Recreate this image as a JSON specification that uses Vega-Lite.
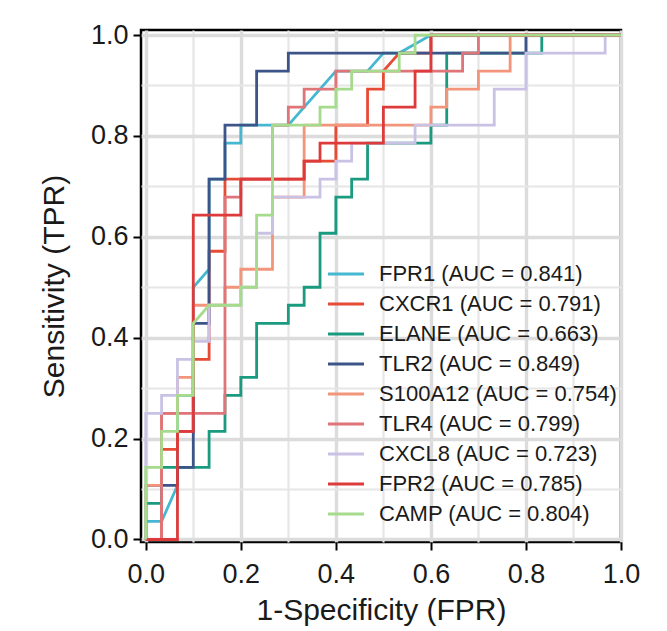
{
  "$schema": "https://vega.github.io/schema/vega-lite/v6.json",
  "autosize": "none",
  "width": 480,
  "height": 512,
  "padding": {"left": 141, "top": 30, "right": 46, "bottom": 89},
  "background": "white",
  "config": {
    "font": "Liberation Sans",
    "view": {"stroke": "black", "strokeWidth": 2.5},
    "axis": {
      "domain": false,
      "grid": true,
      "tickColor": "black",
      "tickWidth": 2,
      "tickSize": 8,
      "labelFont": "Liberation Sans",
      "labelFontSize": 27,
      "labelColor": "#1a1a1a",
      "labelFlush": false,
      "labelOverlap": false,
      "titleFont": "Liberation Sans",
      "titleFontSize": 30,
      "titleFontWeight": "normal",
      "titleColor": "#1a1a1a"
    }
  },
  "datasets": {
    "auc": [
      {"gene": "FPR1", "auc": 0.841},
      {"gene": "CXCR1", "auc": 0.791},
      {"gene": "ELANE", "auc": 0.663},
      {"gene": "TLR2", "auc": 0.849},
      {"gene": "S100A12", "auc": 0.754},
      {"gene": "TLR4", "auc": 0.799},
      {"gene": "CXCL8", "auc": 0.723},
      {"gene": "FPR2", "auc": 0.785},
      {"gene": "CAMP", "auc": 0.804}
    ],
    "roc": [
      {"gene": "FPR1", "step": 1, "fpr": 0, "tpr": 0},
      {"gene": "FPR1", "step": 2, "fpr": 0, "tpr": 0.0357},
      {"gene": "FPR1", "step": 3, "fpr": 0.0333, "tpr": 0.0357},
      {"gene": "FPR1", "step": 4, "fpr": 0.0667, "tpr": 0.1071},
      {"gene": "FPR1", "step": 5, "fpr": 0.0667, "tpr": 0.2857},
      {"gene": "FPR1", "step": 6, "fpr": 0.1, "tpr": 0.2857},
      {"gene": "FPR1", "step": 7, "fpr": 0.1, "tpr": 0.5},
      {"gene": "FPR1", "step": 8, "fpr": 0.1333, "tpr": 0.5357},
      {"gene": "FPR1", "step": 9, "fpr": 0.1333, "tpr": 0.7143},
      {"gene": "FPR1", "step": 10, "fpr": 0.1667, "tpr": 0.7143},
      {"gene": "FPR1", "step": 11, "fpr": 0.1667, "tpr": 0.7857},
      {"gene": "FPR1", "step": 12, "fpr": 0.2, "tpr": 0.7857},
      {"gene": "FPR1", "step": 13, "fpr": 0.2, "tpr": 0.8214},
      {"gene": "FPR1", "step": 14, "fpr": 0.3, "tpr": 0.8214},
      {"gene": "FPR1", "step": 15, "fpr": 0.4, "tpr": 0.9286},
      {"gene": "FPR1", "step": 16, "fpr": 0.4667, "tpr": 0.9286},
      {"gene": "FPR1", "step": 17, "fpr": 0.5, "tpr": 0.9643},
      {"gene": "FPR1", "step": 18, "fpr": 0.5333, "tpr": 0.9643},
      {"gene": "FPR1", "step": 19, "fpr": 0.6, "tpr": 1},
      {"gene": "FPR1", "step": 20, "fpr": 1, "tpr": 1},

      {"gene": "CXCR1", "step": 1, "fpr": 0, "tpr": 0},
      {"gene": "CXCR1", "step": 2, "fpr": 0.0333, "tpr": 0},
      {"gene": "CXCR1", "step": 3, "fpr": 0.0333, "tpr": 0.1786},
      {"gene": "CXCR1", "step": 4, "fpr": 0.0667, "tpr": 0.1786},
      {"gene": "CXCR1", "step": 5, "fpr": 0.0667, "tpr": 0.2143},
      {"gene": "CXCR1", "step": 6, "fpr": 0.1, "tpr": 0.2143},
      {"gene": "CXCR1", "step": 7, "fpr": 0.1, "tpr": 0.3571},
      {"gene": "CXCR1", "step": 8, "fpr": 0.1333, "tpr": 0.3571},
      {"gene": "CXCR1", "step": 9, "fpr": 0.1333, "tpr": 0.5714},
      {"gene": "CXCR1", "step": 10, "fpr": 0.1667, "tpr": 0.5714},
      {"gene": "CXCR1", "step": 11, "fpr": 0.1667, "tpr": 0.7143},
      {"gene": "CXCR1", "step": 12, "fpr": 0.3333, "tpr": 0.7143},
      {"gene": "CXCR1", "step": 13, "fpr": 0.3333, "tpr": 0.75},
      {"gene": "CXCR1", "step": 14, "fpr": 0.4, "tpr": 0.75},
      {"gene": "CXCR1", "step": 15, "fpr": 0.4, "tpr": 0.8214},
      {"gene": "CXCR1", "step": 16, "fpr": 0.4667, "tpr": 0.8214},
      {"gene": "CXCR1", "step": 17, "fpr": 0.4667, "tpr": 0.8929},
      {"gene": "CXCR1", "step": 18, "fpr": 0.5, "tpr": 0.8929},
      {"gene": "CXCR1", "step": 19, "fpr": 0.5, "tpr": 0.9286},
      {"gene": "CXCR1", "step": 20, "fpr": 0.5333, "tpr": 0.9643},
      {"gene": "CXCR1", "step": 21, "fpr": 0.6, "tpr": 0.9643},
      {"gene": "CXCR1", "step": 22, "fpr": 0.6, "tpr": 1},
      {"gene": "CXCR1", "step": 23, "fpr": 1, "tpr": 1},

      {"gene": "ELANE", "step": 1, "fpr": 0, "tpr": 0},
      {"gene": "ELANE", "step": 2, "fpr": 0, "tpr": 0.0714},
      {"gene": "ELANE", "step": 3, "fpr": 0.0333, "tpr": 0.0714},
      {"gene": "ELANE", "step": 4, "fpr": 0.0333, "tpr": 0.1429},
      {"gene": "ELANE", "step": 5, "fpr": 0.1333, "tpr": 0.1429},
      {"gene": "ELANE", "step": 6, "fpr": 0.1333, "tpr": 0.2143},
      {"gene": "ELANE", "step": 7, "fpr": 0.1667, "tpr": 0.2143},
      {"gene": "ELANE", "step": 8, "fpr": 0.1667, "tpr": 0.2857},
      {"gene": "ELANE", "step": 9, "fpr": 0.2, "tpr": 0.2857},
      {"gene": "ELANE", "step": 10, "fpr": 0.2, "tpr": 0.3214},
      {"gene": "ELANE", "step": 11, "fpr": 0.2333, "tpr": 0.3214},
      {"gene": "ELANE", "step": 12, "fpr": 0.2333, "tpr": 0.4286},
      {"gene": "ELANE", "step": 13, "fpr": 0.3, "tpr": 0.4286},
      {"gene": "ELANE", "step": 14, "fpr": 0.3, "tpr": 0.4643},
      {"gene": "ELANE", "step": 15, "fpr": 0.3333, "tpr": 0.4643},
      {"gene": "ELANE", "step": 16, "fpr": 0.3333, "tpr": 0.5},
      {"gene": "ELANE", "step": 17, "fpr": 0.3667, "tpr": 0.5},
      {"gene": "ELANE", "step": 18, "fpr": 0.3667, "tpr": 0.6071},
      {"gene": "ELANE", "step": 19, "fpr": 0.4, "tpr": 0.6071},
      {"gene": "ELANE", "step": 20, "fpr": 0.4, "tpr": 0.6786},
      {"gene": "ELANE", "step": 21, "fpr": 0.4333, "tpr": 0.6786},
      {"gene": "ELANE", "step": 22, "fpr": 0.4333, "tpr": 0.7143},
      {"gene": "ELANE", "step": 23, "fpr": 0.4667, "tpr": 0.7143},
      {"gene": "ELANE", "step": 24, "fpr": 0.4667, "tpr": 0.7857},
      {"gene": "ELANE", "step": 25, "fpr": 0.6, "tpr": 0.7857},
      {"gene": "ELANE", "step": 26, "fpr": 0.6, "tpr": 0.8214},
      {"gene": "ELANE", "step": 27, "fpr": 0.6333, "tpr": 0.8214},
      {"gene": "ELANE", "step": 28, "fpr": 0.6333, "tpr": 0.9643},
      {"gene": "ELANE", "step": 29, "fpr": 0.8333, "tpr": 0.9643},
      {"gene": "ELANE", "step": 30, "fpr": 0.8333, "tpr": 1},
      {"gene": "ELANE", "step": 31, "fpr": 1, "tpr": 1},

      {"gene": "TLR2", "step": 1, "fpr": 0, "tpr": 0},
      {"gene": "TLR2", "step": 2, "fpr": 0, "tpr": 0.1071},
      {"gene": "TLR2", "step": 3, "fpr": 0.0667, "tpr": 0.1071},
      {"gene": "TLR2", "step": 4, "fpr": 0.0667, "tpr": 0.1429},
      {"gene": "TLR2", "step": 5, "fpr": 0.1, "tpr": 0.1429},
      {"gene": "TLR2", "step": 6, "fpr": 0.1, "tpr": 0.4286},
      {"gene": "TLR2", "step": 7, "fpr": 0.1333, "tpr": 0.4286},
      {"gene": "TLR2", "step": 8, "fpr": 0.1333, "tpr": 0.7143},
      {"gene": "TLR2", "step": 9, "fpr": 0.1667, "tpr": 0.7143},
      {"gene": "TLR2", "step": 10, "fpr": 0.1667, "tpr": 0.8214},
      {"gene": "TLR2", "step": 11, "fpr": 0.2333, "tpr": 0.8214},
      {"gene": "TLR2", "step": 12, "fpr": 0.2333, "tpr": 0.9286},
      {"gene": "TLR2", "step": 13, "fpr": 0.3, "tpr": 0.9286},
      {"gene": "TLR2", "step": 14, "fpr": 0.3, "tpr": 0.9643},
      {"gene": "TLR2", "step": 15, "fpr": 0.8, "tpr": 0.9643},
      {"gene": "TLR2", "step": 16, "fpr": 0.8, "tpr": 1},
      {"gene": "TLR2", "step": 17, "fpr": 1, "tpr": 1},

      {"gene": "S100A12", "step": 1, "fpr": 0, "tpr": 0},
      {"gene": "S100A12", "step": 2, "fpr": 0, "tpr": 0.1071},
      {"gene": "S100A12", "step": 3, "fpr": 0.0333, "tpr": 0.1071},
      {"gene": "S100A12", "step": 4, "fpr": 0.0333, "tpr": 0.25},
      {"gene": "S100A12", "step": 5, "fpr": 0.0667, "tpr": 0.25},
      {"gene": "S100A12", "step": 6, "fpr": 0.0667, "tpr": 0.3214},
      {"gene": "S100A12", "step": 7, "fpr": 0.1, "tpr": 0.3214},
      {"gene": "S100A12", "step": 8, "fpr": 0.1, "tpr": 0.4643},
      {"gene": "S100A12", "step": 9, "fpr": 0.1667, "tpr": 0.4643},
      {"gene": "S100A12", "step": 10, "fpr": 0.1667, "tpr": 0.5},
      {"gene": "S100A12", "step": 11, "fpr": 0.2, "tpr": 0.5},
      {"gene": "S100A12", "step": 12, "fpr": 0.2, "tpr": 0.5357},
      {"gene": "S100A12", "step": 13, "fpr": 0.2667, "tpr": 0.5357},
      {"gene": "S100A12", "step": 14, "fpr": 0.2667, "tpr": 0.6786},
      {"gene": "S100A12", "step": 15, "fpr": 0.3333, "tpr": 0.6786},
      {"gene": "S100A12", "step": 16, "fpr": 0.3333, "tpr": 0.8214},
      {"gene": "S100A12", "step": 17, "fpr": 0.6, "tpr": 0.8214},
      {"gene": "S100A12", "step": 18, "fpr": 0.6, "tpr": 0.8571},
      {"gene": "S100A12", "step": 19, "fpr": 0.6333, "tpr": 0.8571},
      {"gene": "S100A12", "step": 20, "fpr": 0.6333, "tpr": 0.8929},
      {"gene": "S100A12", "step": 21, "fpr": 0.7, "tpr": 0.8929},
      {"gene": "S100A12", "step": 22, "fpr": 0.7, "tpr": 0.9286},
      {"gene": "S100A12", "step": 23, "fpr": 0.7667, "tpr": 0.9286},
      {"gene": "S100A12", "step": 24, "fpr": 0.7667, "tpr": 1},
      {"gene": "S100A12", "step": 25, "fpr": 1, "tpr": 1},

      {"gene": "TLR4", "step": 1, "fpr": 0, "tpr": 0},
      {"gene": "TLR4", "step": 2, "fpr": 0.0333, "tpr": 0},
      {"gene": "TLR4", "step": 3, "fpr": 0.0333, "tpr": 0.25},
      {"gene": "TLR4", "step": 4, "fpr": 0.1667, "tpr": 0.25},
      {"gene": "TLR4", "step": 5, "fpr": 0.1667, "tpr": 0.6786},
      {"gene": "TLR4", "step": 6, "fpr": 0.2, "tpr": 0.6786},
      {"gene": "TLR4", "step": 7, "fpr": 0.2, "tpr": 0.7143},
      {"gene": "TLR4", "step": 8, "fpr": 0.2667, "tpr": 0.7143},
      {"gene": "TLR4", "step": 9, "fpr": 0.2667, "tpr": 0.8214},
      {"gene": "TLR4", "step": 10, "fpr": 0.3, "tpr": 0.8214},
      {"gene": "TLR4", "step": 11, "fpr": 0.3, "tpr": 0.8571},
      {"gene": "TLR4", "step": 12, "fpr": 0.3333, "tpr": 0.8571},
      {"gene": "TLR4", "step": 13, "fpr": 0.3333, "tpr": 0.8929},
      {"gene": "TLR4", "step": 14, "fpr": 0.4, "tpr": 0.8929},
      {"gene": "TLR4", "step": 15, "fpr": 0.4, "tpr": 0.9286},
      {"gene": "TLR4", "step": 16, "fpr": 0.6667, "tpr": 0.9286},
      {"gene": "TLR4", "step": 17, "fpr": 0.6667, "tpr": 0.9643},
      {"gene": "TLR4", "step": 18, "fpr": 0.7, "tpr": 0.9643},
      {"gene": "TLR4", "step": 19, "fpr": 0.7, "tpr": 1},
      {"gene": "TLR4", "step": 20, "fpr": 1, "tpr": 1},

      {"gene": "CXCL8", "step": 1, "fpr": 0, "tpr": 0},
      {"gene": "CXCL8", "step": 2, "fpr": 0, "tpr": 0.25},
      {"gene": "CXCL8", "step": 3, "fpr": 0.0333, "tpr": 0.25},
      {"gene": "CXCL8", "step": 4, "fpr": 0.0333, "tpr": 0.2857},
      {"gene": "CXCL8", "step": 5, "fpr": 0.0667, "tpr": 0.2857},
      {"gene": "CXCL8", "step": 6, "fpr": 0.0667, "tpr": 0.3571},
      {"gene": "CXCL8", "step": 7, "fpr": 0.1, "tpr": 0.3571},
      {"gene": "CXCL8", "step": 8, "fpr": 0.1, "tpr": 0.3929},
      {"gene": "CXCL8", "step": 9, "fpr": 0.1333, "tpr": 0.3929},
      {"gene": "CXCL8", "step": 10, "fpr": 0.1333, "tpr": 0.4643},
      {"gene": "CXCL8", "step": 11, "fpr": 0.2, "tpr": 0.4643},
      {"gene": "CXCL8", "step": 12, "fpr": 0.2, "tpr": 0.5},
      {"gene": "CXCL8", "step": 13, "fpr": 0.2333, "tpr": 0.5},
      {"gene": "CXCL8", "step": 14, "fpr": 0.2333, "tpr": 0.6071},
      {"gene": "CXCL8", "step": 15, "fpr": 0.2667, "tpr": 0.6071},
      {"gene": "CXCL8", "step": 16, "fpr": 0.2667, "tpr": 0.6786},
      {"gene": "CXCL8", "step": 17, "fpr": 0.3667, "tpr": 0.6786},
      {"gene": "CXCL8", "step": 18, "fpr": 0.3667, "tpr": 0.7143},
      {"gene": "CXCL8", "step": 19, "fpr": 0.4, "tpr": 0.7143},
      {"gene": "CXCL8", "step": 20, "fpr": 0.4, "tpr": 0.75},
      {"gene": "CXCL8", "step": 21, "fpr": 0.4333, "tpr": 0.75},
      {"gene": "CXCL8", "step": 22, "fpr": 0.4333, "tpr": 0.7857},
      {"gene": "CXCL8", "step": 23, "fpr": 0.5667, "tpr": 0.7857},
      {"gene": "CXCL8", "step": 24, "fpr": 0.5667, "tpr": 0.8214},
      {"gene": "CXCL8", "step": 25, "fpr": 0.7333, "tpr": 0.8214},
      {"gene": "CXCL8", "step": 26, "fpr": 0.7333, "tpr": 0.8929},
      {"gene": "CXCL8", "step": 27, "fpr": 0.8, "tpr": 0.8929},
      {"gene": "CXCL8", "step": 28, "fpr": 0.8, "tpr": 0.9643},
      {"gene": "CXCL8", "step": 29, "fpr": 0.9667, "tpr": 0.9643},
      {"gene": "CXCL8", "step": 30, "fpr": 0.9667, "tpr": 1},
      {"gene": "CXCL8", "step": 31, "fpr": 1, "tpr": 1},

      {"gene": "FPR2", "step": 1, "fpr": 0, "tpr": 0},
      {"gene": "FPR2", "step": 2, "fpr": 0.0667, "tpr": 0},
      {"gene": "FPR2", "step": 3, "fpr": 0.0667, "tpr": 0.2143},
      {"gene": "FPR2", "step": 4, "fpr": 0.1, "tpr": 0.2143},
      {"gene": "FPR2", "step": 5, "fpr": 0.1, "tpr": 0.6429},
      {"gene": "FPR2", "step": 6, "fpr": 0.2, "tpr": 0.6429},
      {"gene": "FPR2", "step": 7, "fpr": 0.2, "tpr": 0.7143},
      {"gene": "FPR2", "step": 8, "fpr": 0.3333, "tpr": 0.7143},
      {"gene": "FPR2", "step": 9, "fpr": 0.3333, "tpr": 0.75},
      {"gene": "FPR2", "step": 10, "fpr": 0.3667, "tpr": 0.75},
      {"gene": "FPR2", "step": 11, "fpr": 0.3667, "tpr": 0.7857},
      {"gene": "FPR2", "step": 12, "fpr": 0.5, "tpr": 0.7857},
      {"gene": "FPR2", "step": 13, "fpr": 0.5, "tpr": 0.8571},
      {"gene": "FPR2", "step": 14, "fpr": 0.5667, "tpr": 0.8571},
      {"gene": "FPR2", "step": 15, "fpr": 0.5667, "tpr": 0.9286},
      {"gene": "FPR2", "step": 16, "fpr": 0.6, "tpr": 0.9286},
      {"gene": "FPR2", "step": 17, "fpr": 0.6, "tpr": 1},
      {"gene": "FPR2", "step": 18, "fpr": 1, "tpr": 1},

      {"gene": "CAMP", "step": 1, "fpr": 0, "tpr": 0},
      {"gene": "CAMP", "step": 2, "fpr": 0, "tpr": 0.1429},
      {"gene": "CAMP", "step": 3, "fpr": 0.0333, "tpr": 0.1429},
      {"gene": "CAMP", "step": 4, "fpr": 0.0333, "tpr": 0.2143},
      {"gene": "CAMP", "step": 5, "fpr": 0.0667, "tpr": 0.2143},
      {"gene": "CAMP", "step": 6, "fpr": 0.0667, "tpr": 0.2857},
      {"gene": "CAMP", "step": 7, "fpr": 0.1, "tpr": 0.2857},
      {"gene": "CAMP", "step": 8, "fpr": 0.1, "tpr": 0.4286},
      {"gene": "CAMP", "step": 9, "fpr": 0.1333, "tpr": 0.4643},
      {"gene": "CAMP", "step": 10, "fpr": 0.2, "tpr": 0.4643},
      {"gene": "CAMP", "step": 11, "fpr": 0.2, "tpr": 0.5},
      {"gene": "CAMP", "step": 12, "fpr": 0.2333, "tpr": 0.5},
      {"gene": "CAMP", "step": 13, "fpr": 0.2333, "tpr": 0.6429},
      {"gene": "CAMP", "step": 14, "fpr": 0.2667, "tpr": 0.6429},
      {"gene": "CAMP", "step": 15, "fpr": 0.2667, "tpr": 0.8214},
      {"gene": "CAMP", "step": 16, "fpr": 0.3667, "tpr": 0.8214},
      {"gene": "CAMP", "step": 17, "fpr": 0.3667, "tpr": 0.8571},
      {"gene": "CAMP", "step": 18, "fpr": 0.4, "tpr": 0.8571},
      {"gene": "CAMP", "step": 19, "fpr": 0.4, "tpr": 0.8929},
      {"gene": "CAMP", "step": 20, "fpr": 0.4333, "tpr": 0.8929},
      {"gene": "CAMP", "step": 21, "fpr": 0.4333, "tpr": 0.9286},
      {"gene": "CAMP", "step": 22, "fpr": 0.5333, "tpr": 0.9286},
      {"gene": "CAMP", "step": 23, "fpr": 0.5333, "tpr": 0.9643},
      {"gene": "CAMP", "step": 24, "fpr": 0.5667, "tpr": 0.9643},
      {"gene": "CAMP", "step": 25, "fpr": 0.5667, "tpr": 1},
      {"gene": "CAMP", "step": 26, "fpr": 1, "tpr": 1}
    ]
  },
  "layer": [
    {
      "mark": {"type": "rule", "color": "#bdbdbd", "strokeWidth": 2},
      "encoding": {
        "x": {"datum": 0, "type": "quantitative", "scale": {"domain": [-0.01, 1.0], "nice": false, "zero": false}},
        "y": {"datum": 0, "type": "quantitative", "scale": {"domain": [-0.005, 1.01], "nice": false, "zero": false}},
        "x2": {"datum": 1},
        "y2": {"datum": 1}
      }
    },
    {
      "data": {"name": "roc"},
      "transform": [
        {"lookup": "gene", "from": {"data": {"name": "auc"}, "key": "gene", "fields": ["auc"]}},
        {"calculate": "datum.gene + ' (AUC = ' + format(datum.auc, '.3f') + ')'", "as": "label"}
      ],
      "mark": {"type": "line", "strokeWidth": 2.8, "interpolate": "linear"},
      "encoding": {
        "x": {
          "field": "fpr", "type": "quantitative",
          "scale": {"domain": [-0.01, 1.0], "nice": false, "zero": false},
          "axis": {
            "title": "1-Specificity (FPR)",
            "grid": true,
            "values": [0, 0.1, 0.2, 0.3, 0.4, 0.5, 0.6, 0.7, 0.8, 0.9, 1.0],
            "labelExpr": "round(datum.value*10)%2==0 ? format(datum.value, '.1f') : ''",
            "labelPadding": 11,
            "gridColor": {"condition": {"test": "round(datum.value*10)%2==0", "value": "#dcdcdc"}, "value": "#e6e6e6"},
            "gridWidth": {"condition": {"test": "round(datum.value*10)%2==0", "value": 3.4}, "value": 2.2},
            "tickOpacity": {"condition": {"test": "round(datum.value*10)%2==1", "value": 0}, "value": 1},
            "titleY": 77,
            "titleBaseline": "alphabetic"
          }
        },
        "y": {
          "field": "tpr", "type": "quantitative",
          "scale": {"domain": [-0.005, 1.01], "nice": false, "zero": false},
          "axis": {
            "title": "Sensitivity (TPR)",
            "grid": true,
            "values": [0, 0.1, 0.2, 0.3, 0.4, 0.5, 0.6, 0.7, 0.8, 0.9, 1.0],
            "labelExpr": "round(datum.value*10)%2==0 ? format(datum.value, '.1f') : ''",
            "labelPadding": 5,
            "gridColor": {"condition": {"test": "round(datum.value*10)%2==0", "value": "#dcdcdc"}, "value": "#e6e6e6"},
            "gridWidth": {"condition": {"test": "round(datum.value*10)%2==0", "value": 3.4}, "value": 2.2},
            "tickOpacity": {"condition": {"test": "round(datum.value*10)%2==1", "value": 0}, "value": 1},
            "titleX": -87,
            "titleY": 256,
            "titleBaseline": "middle",
            "titleAlign": "center",
            "titleAngle": -90
          }
        },
        "color": {
          "field": "label", "type": "nominal",
          "scale": {
            "domain": ["FPR1 (AUC = 0.841)", "CXCR1 (AUC = 0.791)", "ELANE (AUC = 0.663)", "TLR2 (AUC = 0.849)", "S100A12 (AUC = 0.754)", "TLR4 (AUC = 0.799)", "CXCL8 (AUC = 0.723)", "FPR2 (AUC = 0.785)", "CAMP (AUC = 0.804)"],
            "range": ["#45B7D1", "#E64B35", "#1A9A7F", "#3C5488", "#F2957A", "#E07579", "#C9C2E4", "#DD3B3B", "#A6DA8C"]
          },
          "legend": {
            "title": null,
            "orient": "none",
            "legendX": 194,
            "legendY": 233,
            "padding": 0,
            "symbolType": "M-2,0H2",
            "symbolSize": 324,
            "symbolStrokeWidth": 2.8,
            "labelFont": "Liberation Sans",
            "labelFontSize": 22,
            "labelColor": "#1a1a1a",
            "labelOffset": 22,
            "labelLimit": 400,
            "rowPadding": 8
          }
        },
        "order": {"field": "step", "type": "quantitative"}
      }
    }
  ]
}
